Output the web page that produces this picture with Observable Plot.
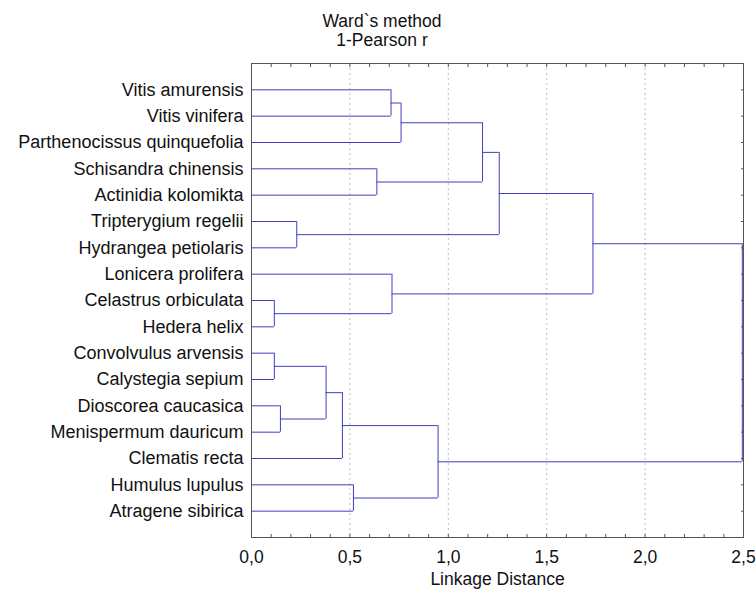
<!DOCTYPE html>
<html><head><meta charset="utf-8">
<script src="https://cdn.jsdelivr.net/npm/d3@7"></script>
<script src="https://cdn.jsdelivr.net/npm/@observablehq/plot@0.6"></script>
<style>
body{margin:0;background:#fff;font-family:"Liberation Sans",Arial,sans-serif;}
#title{width:756px;padding-top:12px;padding-left:8px;box-sizing:border-box;text-align:center;font-size:17.5px;line-height:19px;color:#111;}
</style></head><body>
<div id="title"><div>Ward`s method</div><div>1-Pearson r</div></div>
<div id="chart"></div>
<script>
// Leaves, top to bottom
const leaves = [
  "Vitis amurensis",
  "Vitis vinifera",
  "Parthenocissus quinquefolia",
  "Schisandra chinensis",
  "Actinidia kolomikta",
  "Tripterygium regelii",
  "Hydrangea petiolaris",
  "Lonicera prolifera",
  "Celastrus orbiculata",
  "Hedera helix",
  "Convolvulus arvensis",
  "Calystegia sepium",
  "Dioscorea caucasica",
  "Menispermum dauricum",
  "Clematis recta",
  "Humulus lupulus",
  "Atragene sibirica"
];
// Merge steps: [child A, child B, linkage distance]; node ids 0-16 are leaves, 17+ are merges in order
const merges = [
  [8, 9, 0.116],    // 17
  [10, 11, 0.116],  // 18
  [12, 13, 0.147],  // 19
  [5, 6, 0.230],    // 20
  [18, 19, 0.379],  // 21
  [21, 14, 0.462],  // 22
  [15, 16, 0.518],  // 23
  [3, 4, 0.637],    // 24
  [0, 1, 0.709],    // 25
  [7, 17, 0.714],   // 26
  [25, 2, 0.760],   // 27
  [22, 23, 0.948],  // 28
  [27, 24, 1.174],  // 29
  [29, 20, 1.259],  // 30
  [30, 26, 1.735],  // 31
  [31, 28, 2.494]   // 32
];
const xTickLabels = [0, 0.5, 1, 1.5, 2, 2.5];
const gridValues = [0.5, 1, 1.5, 2];
const minorTicks = d3.ticks(0, 2.5, 25);
const leafIndex = leaves.map((d, i) => i);

// Build node positions from the data
const nodeX = leaves.map(() => 0);
const nodeY = leaves.map((d, i) => i);
const vert = [], horiz = [];
merges.forEach(([a, b, h]) => {
  const ya = nodeY[a], yb = nodeY[b];
  vert.push({x: h, y1: ya, y2: yb});
  horiz.push({y: ya, x1: nodeX[a], x2: h});
  horiz.push({y: yb, x1: nodeX[b], x2: h});
  nodeX.push(h);
  nodeY.push((ya + yb) / 2);
});

const lineColor = "#3f3fbb";
const blank = () => "";

const chart = Plot.plot({
  width: 756,
  height: 545,
  marginLeft: 251,
  marginRight: 13,
  marginTop: 13,
  marginBottom: 58,
  style: {fontFamily: "'Liberation Sans', Arial, sans-serif", fontSize: "17.5px", background: "white", color: "#111"},
  x: {domain: [0, 2.5]},
  y: {domain: [-1, 17], reverse: true},
  marks: [
    Plot.ruleX(gridValues, {stroke: "#bdbdbd", strokeDasharray: "2,3"}),
    Plot.ruleX(vert, {x: "x", y1: "y1", y2: "y2", stroke: lineColor}),
    Plot.ruleY(horiz, {y: "y", x1: "x1", x2: "x2", stroke: lineColor}),
    Plot.frame({stroke: "#555"}),
    Plot.axisY(leafIndex, {anchor: "left", tickSize: 0, tickPadding: 8, tickFormat: i => leaves[i], label: null, fill: "#111", fontSize: 18}),
    Plot.axisY(leafIndex, {anchor: "right", tickSize: 3, insetRight: 3, tickFormat: blank, label: null, stroke: "#555"}),
    Plot.axisX(xTickLabels, {anchor: "bottom", tickSize: 0, tickPadding: 13, tickFormat: d => d.toFixed(1).replace(".", ","), label: null, fill: "#111"}),
    Plot.axisX(minorTicks, {anchor: "bottom", tickSize: 3, insetBottom: 3, tickFormat: blank, label: null, stroke: "#555"}),
    Plot.axisX(minorTicks, {anchor: "top", tickSize: 3, insetTop: 3, tickFormat: blank, label: null, stroke: "#555"}),
    Plot.text(["Linkage Distance"], {frameAnchor: "bottom", dy: 47, fill: "#111"})
  ]
});
document.getElementById("chart").appendChild(chart);
</script>
</body></html>
